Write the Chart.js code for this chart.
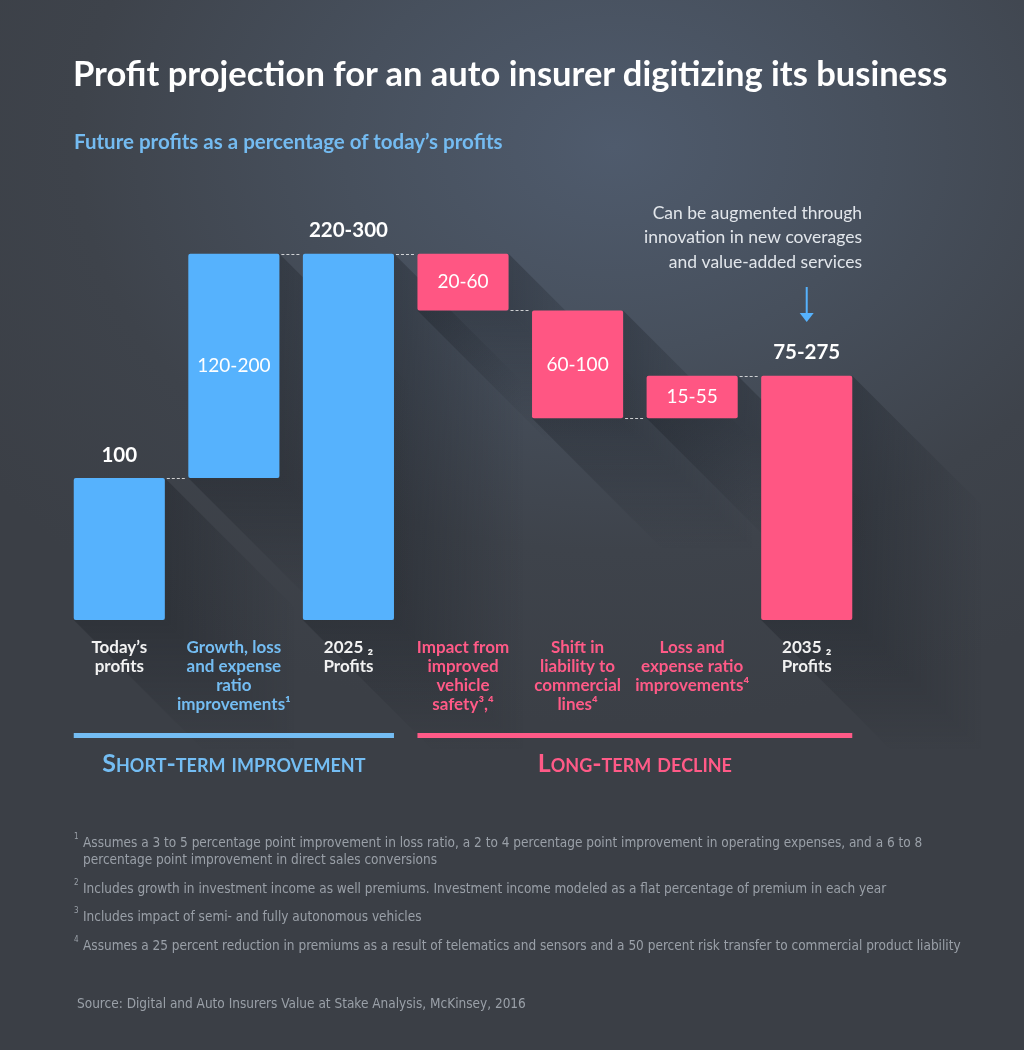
<!DOCTYPE html>
<html lang="en">
<head>
<meta charset="UTF-8">
<title>Profit projection</title>
<script src="https://cdn.jsdelivr.net/npm/chart.js"></script>
<style>
  html, body { margin: 0; padding: 0; }
  body {
    width: 1024px; height: 1050px; position: relative; overflow: hidden;
    background: radial-gradient(ellipse 75% 55% at 60% 14%, #4f5b6d 0%, #47505d 35%, #3e434b 70%, #3b3f46 100%);
    font-family: Lato, "Open Sans", sans-serif;
  }
  #chart { position: absolute; left: 0; top: 0; }
  .title { position: absolute; left: 73px; top: 52px; color: #fff; font-weight: 700; font-size: 34.5px; }
  .subtitle { position: absolute; left: 74px; top: 129px; color: #74bbf1; font-weight: 700; font-size: 20.5px; }
  .notes { position: absolute; left: 74px; top: 834px; width: 910px; color: #9aa0a8;
    font-family: "Liberation Sans Narrow", "DejaVu Sans Condensed", sans-serif; font-size: 13.5px; line-height: 17px; }
  .notes p { margin: 0 0 11.5px 0; padding-left: 9px; position: relative; }
  .notes sup { position: absolute; left: 0; top: -6px; font-size: 8px; }
  .source { position: absolute; left: 77px; top: 995px; color: #9aa0a8;
    font-family: "Liberation Sans Narrow", "DejaVu Sans Condensed", sans-serif; font-size: 13.5px; }
</style>
</head>
<body>
<canvas id="chart" width="1024" height="1050"></canvas>
<div class="title">Profit projection for an auto insurer digitizing its business</div>
<div class="subtitle">Future profits as a percentage of today’s profits</div>
<div class="notes">
  <p><sup>1</sup>Assumes a 3 to 5 percentage point improvement in loss ratio, a 2 to 4 percentage point improvement in operating expenses, and a 6 to 8 percentage point improvement in direct sales conversions</p>
  <p><sup>2</sup>Includes growth in investment income as well premiums. Investment income modeled as a flat percentage of premium in each year</p>
  <p><sup>3</sup>Includes impact of semi- and fully autonomous vehicles</p>
  <p><sup>4</sup>Assumes a 25 percent reduction in premiums as a result of telematics and sensors and a 50 percent risk transfer to commercial product liability</p>
</div>
<div class="source">Source: Digital and Auto Insurers Value at Stake Analysis, McKinsey, 2016</div>

<script>
// data
const categories = [
  ["Today’s", "profits"],
  ["Growth, loss", "and expense", "ratio", "improvements¹"],
  ["2025 ₂", "Profits"],
  ["Impact from", "improved", "vehicle", "safety³,⁴"],
  ["Shift in", "liability to", "commercial", "lines⁴"],
  ["Loss and", "expense ratio", "improvements⁴"],
  ["2035 ₂", "Profits"]
];
const barStart = [0, 100, 0, 218, 142, 142, 0];
const barEnd = [100, 258, 258, 258, 218, 172, 172];
const rangeLabels = ["100", "120-200", "220-300", "20-60", "60-100", "15-55", "75-275"];
const labelInside = [false, true, false, true, true, true, false];
const phase = ["short", "short", "short", "long", "long", "long", "long"];
const totals = [true, false, true, false, false, false, true];
const groupNames = { short: "Short-term improvement", long: "Long-term decline" };
const noteLines = ["Can be augmented through", "innovation in new coverages", "and value-added services"];

const BLUE = "#56b2fd", PINK = "#ff5683";
const LBLUE = "#74bdf3", LPINK = "#ff5a87";

const decor = {
  id: "decor",
  // long shadows go under everything, tick labels included
  beforeDraw(chart) {
    const ctx = chart.ctx;
    const L = 130;
    chart.getDatasetMeta(0).data.forEach(function (bar) {
      const x1 = bar.x - bar.width / 2, x2 = bar.x + bar.width / 2;
      const y1 = Math.min(bar.y, bar.base), y2 = Math.max(bar.y, bar.base);
      ctx.save();
      let g = ctx.createLinearGradient(x2, 0, x2 + L, 0);
      g.addColorStop(0, "rgba(20,24,30,0.3)");
      g.addColorStop(1, "rgba(20,24,30,0)");
      ctx.fillStyle = g;
      ctx.beginPath();
      ctx.moveTo(x2, y1); ctx.lineTo(x2 + L, y1 + L); ctx.lineTo(x2 + L, y2 + L); ctx.lineTo(x2, y2);
      ctx.closePath(); ctx.fill();
      g = ctx.createLinearGradient(0, y2, 0, y2 + L);
      g.addColorStop(0, "rgba(20,24,30,0.3)");
      g.addColorStop(1, "rgba(20,24,30,0)");
      ctx.fillStyle = g;
      ctx.beginPath();
      ctx.moveTo(x1, y2); ctx.lineTo(x2, y2); ctx.lineTo(x2 + L, y2 + L); ctx.lineTo(x1 + L, y2 + L);
      ctx.closePath(); ctx.fill();
      ctx.restore();
    });
  },
  afterDatasetsDraw(chart) {
    const ctx = chart.ctx;
    const bars = chart.getDatasetMeta(0).data;
    const y = chart.scales.y;

    // dashed connectors
    ctx.save();
    ctx.strokeStyle = "rgba(255,255,255,0.75)";
    ctx.lineWidth = 1;
    ctx.setLineDash([3, 2]);
    for (let i = 0; i < bars.length - 1; i++) {
      const a = [barStart[i], barEnd[i]], b = [barStart[i + 1], barEnd[i + 1]];
      const level = a.find(v => b.includes(v));
      const py = Math.round(y.getPixelForValue(level)) + 0.5;
      ctx.beginPath();
      ctx.moveTo(bars[i].x + bars[i].width / 2 + 2, py);
      ctx.lineTo(bars[i + 1].x - bars[i + 1].width / 2 - 2, py);
      ctx.stroke();
    }
    ctx.restore();

    // value labels
    ctx.save();
    ctx.textAlign = "center";
    ctx.textBaseline = "middle";
    bars.forEach(function (bar, i) {
      ctx.fillStyle = "#ffffff";
      if (labelInside[i]) {
        ctx.font = "400 19px Lato, sans-serif";
        ctx.fillText(rangeLabels[i], bar.x, (bar.y + bar.base) / 2);
      } else {
        ctx.font = "700 20.5px Lato, sans-serif";
        ctx.fillText(rangeLabels[i], bar.x, Math.min(bar.y, bar.base) - 23);
      }
    });
    ctx.restore();

    // phase brackets
    ctx.save();
    ["short", "long"].forEach(function (p) {
      const idx = phase.map((v, i) => v === p ? i : -1).filter(i => i >= 0);
      const first = bars[idx[0]], last = bars[idx[idx.length - 1]];
      const left = first.x - first.width / 2, right = last.x + last.width / 2;
      ctx.fillStyle = p === "short" ? LBLUE : LPINK;
      ctx.fillRect(left, 733, right - left, 5);
      ctx.font = "small-caps 700 25px Lato, sans-serif";
      ctx.textAlign = "center";
      ctx.textBaseline = "middle";
      ctx.fillText(groupNames[p], (left + right) / 2, 764);
    });
    ctx.restore();

    // annotation + arrow over the last bar
    const lastBar = bars[bars.length - 1];
    ctx.save();
    ctx.font = "400 17.5px Lato, sans-serif";
    ctx.fillStyle = "#e2e6eb";
    ctx.textAlign = "right";
    ctx.textBaseline = "middle";
    noteLines.forEach((t, k) => ctx.fillText(t, 862, 213 + k * 24.5));
    ctx.strokeStyle = BLUE; ctx.fillStyle = BLUE; ctx.lineWidth = 2;
    ctx.beginPath(); ctx.moveTo(lastBar.x, 287); ctx.lineTo(lastBar.x, 314); ctx.stroke();
    ctx.beginPath(); ctx.moveTo(lastBar.x - 7, 313); ctx.lineTo(lastBar.x + 7, 313); ctx.lineTo(lastBar.x, 322);
    ctx.closePath(); ctx.fill();
    ctx.restore();
  }
};

new Chart(document.getElementById("chart"), {
  type: "bar",
  data: {
    labels: categories,
    datasets: [{
      data: barStart.map((s, i) => [s, barEnd[i]]),
      backgroundColor: phase.map(p => p === "short" ? BLUE : PINK),
      borderRadius: 2,
      borderSkipped: false,
      categoryPercentage: 1,
      barPercentage: 0.795
    }]
  },
  options: {
    responsive: false,
    animation: false,
    layout: { padding: { left: 62, right: 160, top: 194, bottom: 310 } },
    plugins: { legend: { display: false }, tooltip: { enabled: false } },
    scales: {
      y: { display: false, min: 0, max: 300 },
      x: {
        grid: { display: false, drawTicks: false },
        border: { display: false },
        afterFit: function (axis) { axis.height = 120; },
        ticks: {
          autoSkip: false, maxRotation: 0, padding: 18,
          font: { family: "Lato, sans-serif", size: 17, weight: "bold", lineHeight: 1.12 },
          color: function (c) {
            if (totals[c.index]) return "#f2f2f2";
            return phase[c.index] === "short" ? LBLUE : LPINK;
          }
        }
      }
    }
  },
  plugins: [decor]
});
</script>
</body>
</html>
